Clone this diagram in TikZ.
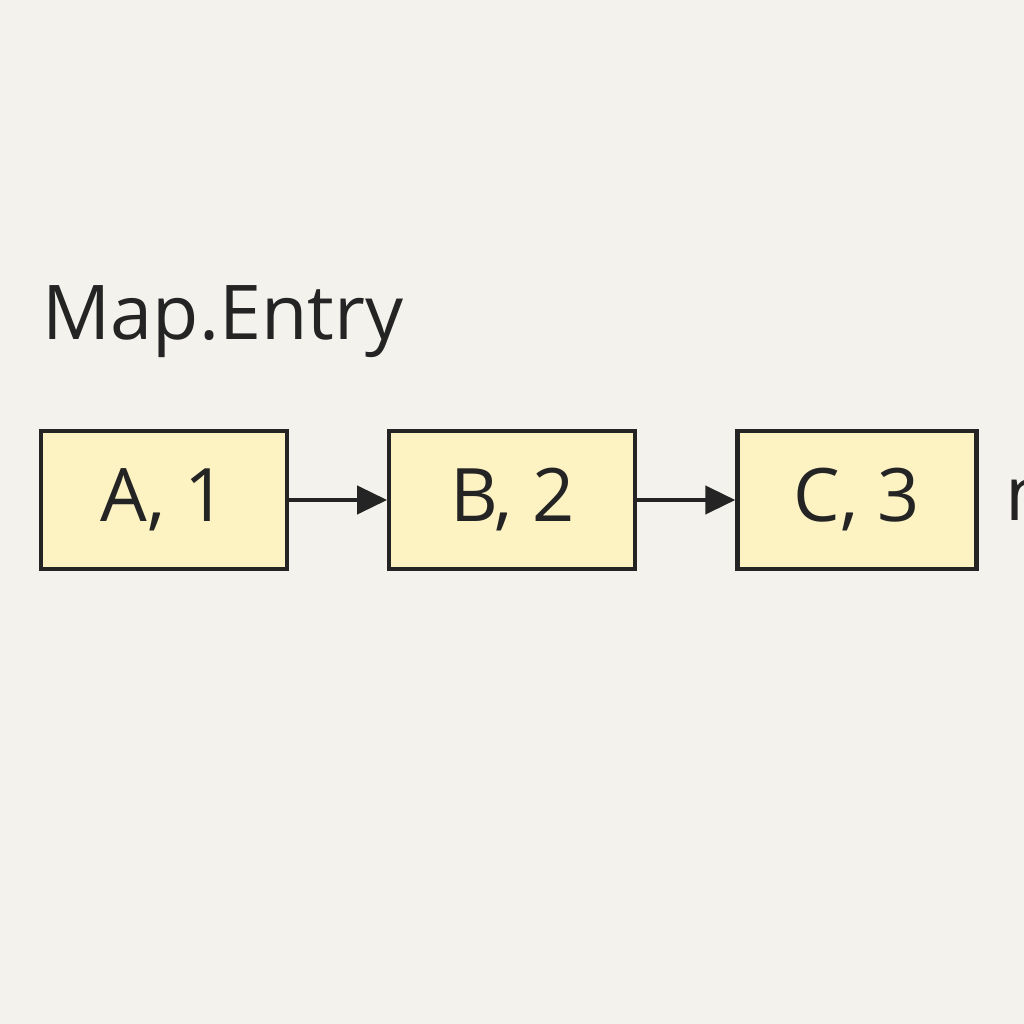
\documentclass[tikz,border=0pt]{standalone}
\usepackage{fontspec}
\setmainfont{Open Sans}
\usepackage{xcolor}
\usepackage{tikz}
\usetikzlibrary{arrows.meta,positioning}
\definecolor{paper}{RGB}{244,242,237}
\definecolor{entryfill}{RGB}{252,242,194}
\definecolor{ink}{RGB}{36,36,36}
\tikzset{
  entrybox/.style={rectangle, draw=ink, line width=1.2pt, fill=entryfill,
                   minimum width=24.6mm, minimum height=13.8mm,
                   font=\fontsize{21}{25}\selectfont\color{ink}, inner sep=0pt},
  nextarr/.style={-{Triangle[length=3mm, width=2.8mm]}, line width=1.2pt, color=ink},
  titlelbl/.style={font=\fontsize{21.5}{25}\selectfont\color{ink}, inner sep=0pt},
}
\begin{document}
\begin{tikzpicture}[node distance=9.8mm]
  \fill[paper] (0,0) rectangle (10.24,10.24);
  \clip (0,0) rectangle (10.24,10.24);
  \node[titlelbl, anchor=base west] (title) at (0.42,6.84) {Map.Entry};
  \node[entrybox] (a) at (1.64,5.24) {A, 1};
  \node[entrybox, right=of a] (b) {B, 2};
  \node[entrybox, right=of b, minimum width=23.9mm] (c) {C, 3};
  \node[titlelbl, anchor=base west] (nil) at (10.05,5.03) {null};
  \draw[nextarr] (a) -- (b);
  \draw[nextarr] (b) -- (c);
\end{tikzpicture}
\end{document}
